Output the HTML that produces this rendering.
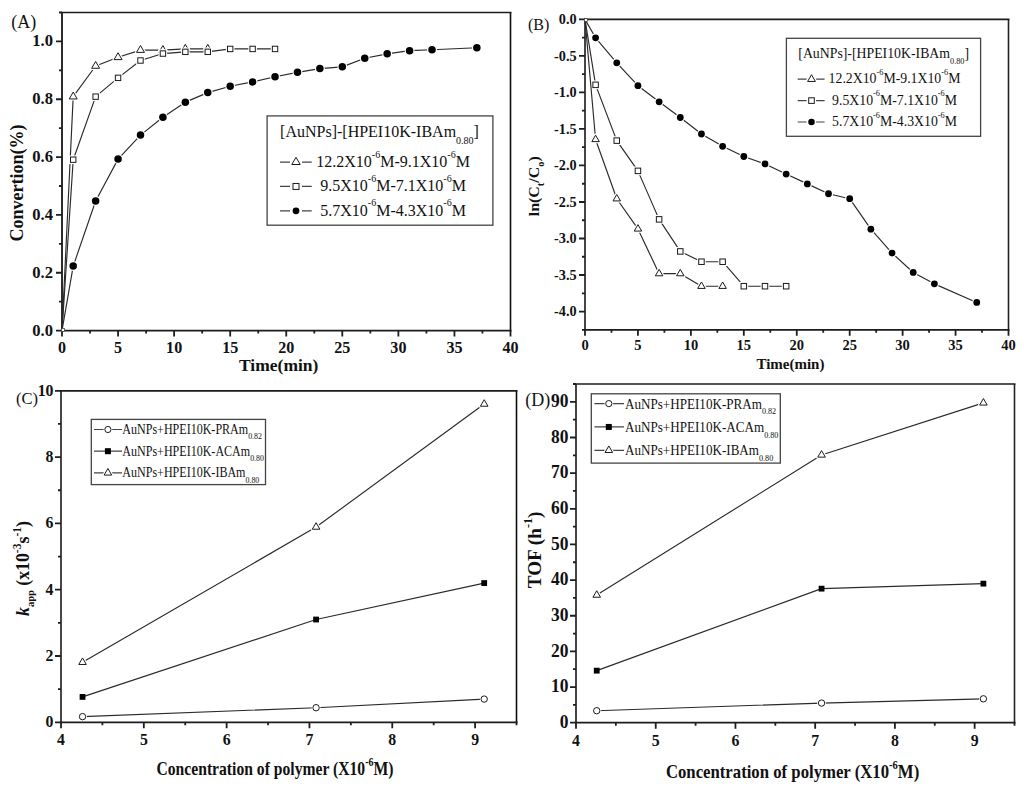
<!DOCTYPE html>
<html><head><meta charset="utf-8"><style>
html,body{margin:0;padding:0;background:#fff;}
svg{display:block;}
text{font-family:'Liberation Serif', serif;fill:#111;}
</style></head><body>
<svg width="1024" height="788" viewBox="0 0 1024 788">
<rect width="1024" height="788" fill="#fff"/>
<path d="M62 12.5V330.6" stroke="#2c2c2c" stroke-width="2" fill="none"/>
<path d="M510.5 12.5V330.6" stroke="#0d0d0d" stroke-width="1.6" fill="none"/>
<path d="M61 12.5H511.5M61 330.6H511.5" stroke="#1c1c1c" stroke-width="1.7" fill="none"/>
<path d="M62.00 330.6v6M90.03 330.6v3M118.06 330.6v6M146.09 330.6v3M174.12 330.6v6M202.16 330.6v3M230.19 330.6v6M258.22 330.6v3M286.25 330.6v6M314.28 330.6v3M342.31 330.6v6M370.34 330.6v3M398.38 330.6v6M426.41 330.6v3M454.44 330.6v6M482.47 330.6v3M510.50 330.6v6M62 330.60h-6M62 301.68h-3M62 272.76h-6M62 243.85h-3M62 214.93h-6M62 186.01h-3M62 157.09h-6M62 128.17h-3M62 99.25h-6M62 70.34h-3M62 41.42h-6M62 12.50h-3" stroke="#1e1e1e" stroke-width="1.8" fill="none"/>
<text transform="translate(62.00,353.00) scale(0.92,1)" text-anchor="middle" font-size="17.5" font-weight="bold">0</text>
<text transform="translate(118.06,353.00) scale(0.92,1)" text-anchor="middle" font-size="17.5" font-weight="bold">5</text>
<text transform="translate(174.12,353.00) scale(0.92,1)" text-anchor="middle" font-size="17.5" font-weight="bold">10</text>
<text transform="translate(230.19,353.00) scale(0.92,1)" text-anchor="middle" font-size="17.5" font-weight="bold">15</text>
<text transform="translate(286.25,353.00) scale(0.92,1)" text-anchor="middle" font-size="17.5" font-weight="bold">20</text>
<text transform="translate(342.31,353.00) scale(0.92,1)" text-anchor="middle" font-size="17.5" font-weight="bold">25</text>
<text transform="translate(398.38,353.00) scale(0.92,1)" text-anchor="middle" font-size="17.5" font-weight="bold">30</text>
<text transform="translate(454.44,353.00) scale(0.92,1)" text-anchor="middle" font-size="17.5" font-weight="bold">35</text>
<text transform="translate(510.50,353.00) scale(0.92,1)" text-anchor="middle" font-size="17.5" font-weight="bold">40</text>
<text transform="translate(53.00,335.60) scale(0.95,1)" text-anchor="end" font-size="17.5" font-weight="bold">0.0</text>
<text transform="translate(53.00,277.76) scale(0.95,1)" text-anchor="end" font-size="17.5" font-weight="bold">0.2</text>
<text transform="translate(53.00,219.93) scale(0.95,1)" text-anchor="end" font-size="17.5" font-weight="bold">0.4</text>
<text transform="translate(53.00,162.09) scale(0.95,1)" text-anchor="end" font-size="17.5" font-weight="bold">0.6</text>
<text transform="translate(53.00,104.25) scale(0.95,1)" text-anchor="end" font-size="17.5" font-weight="bold">0.8</text>
<text transform="translate(53.00,46.42) scale(0.95,1)" text-anchor="end" font-size="17.5" font-weight="bold">1.0</text>
<path d="M62.00 330.60 L73.21 266.11 L95.64 201.05 L118.06 159.12 L140.49 135.11 L162.91 117.18 L185.34 102.15 L207.76 92.60 L230.19 86.24 L252.61 81.90 L275.04 76.70 L297.46 72.36 L319.89 68.60 L342.31 66.87 L364.74 58.19 L387.16 53.85 L409.59 50.67 L432.01 49.80 L476.86 47.78" fill="none" stroke="#2a2a2a" stroke-width="1.15" stroke-linejoin="round"/>
<circle cx="73.21" cy="266.11" r="4.95" fill="#fff"/><circle cx="73.21" cy="266.11" r="3.75" fill="#000"/>
<circle cx="95.64" cy="201.05" r="4.95" fill="#fff"/><circle cx="95.64" cy="201.05" r="3.75" fill="#000"/>
<circle cx="118.06" cy="159.12" r="4.95" fill="#fff"/><circle cx="118.06" cy="159.12" r="3.75" fill="#000"/>
<circle cx="140.49" cy="135.11" r="4.95" fill="#fff"/><circle cx="140.49" cy="135.11" r="3.75" fill="#000"/>
<circle cx="162.91" cy="117.18" r="4.95" fill="#fff"/><circle cx="162.91" cy="117.18" r="3.75" fill="#000"/>
<circle cx="185.34" cy="102.15" r="4.95" fill="#fff"/><circle cx="185.34" cy="102.15" r="3.75" fill="#000"/>
<circle cx="207.76" cy="92.60" r="4.95" fill="#fff"/><circle cx="207.76" cy="92.60" r="3.75" fill="#000"/>
<circle cx="230.19" cy="86.24" r="4.95" fill="#fff"/><circle cx="230.19" cy="86.24" r="3.75" fill="#000"/>
<circle cx="252.61" cy="81.90" r="4.95" fill="#fff"/><circle cx="252.61" cy="81.90" r="3.75" fill="#000"/>
<circle cx="275.04" cy="76.70" r="4.95" fill="#fff"/><circle cx="275.04" cy="76.70" r="3.75" fill="#000"/>
<circle cx="297.46" cy="72.36" r="4.95" fill="#fff"/><circle cx="297.46" cy="72.36" r="3.75" fill="#000"/>
<circle cx="319.89" cy="68.60" r="4.95" fill="#fff"/><circle cx="319.89" cy="68.60" r="3.75" fill="#000"/>
<circle cx="342.31" cy="66.87" r="4.95" fill="#fff"/><circle cx="342.31" cy="66.87" r="3.75" fill="#000"/>
<circle cx="364.74" cy="58.19" r="4.95" fill="#fff"/><circle cx="364.74" cy="58.19" r="3.75" fill="#000"/>
<circle cx="387.16" cy="53.85" r="4.95" fill="#fff"/><circle cx="387.16" cy="53.85" r="3.75" fill="#000"/>
<circle cx="409.59" cy="50.67" r="4.95" fill="#fff"/><circle cx="409.59" cy="50.67" r="3.75" fill="#000"/>
<circle cx="432.01" cy="49.80" r="4.95" fill="#fff"/><circle cx="432.01" cy="49.80" r="3.75" fill="#000"/>
<circle cx="476.86" cy="47.78" r="4.95" fill="#fff"/><circle cx="476.86" cy="47.78" r="3.75" fill="#000"/>
<path d="M62.00 330.60 L73.21 96.65 L95.64 66.00 L118.06 57.32 L140.49 50.09 L162.91 50.09 L185.34 48.94 L207.76 48.94" fill="none" stroke="#2a2a2a" stroke-width="1.15" stroke-linejoin="round"/>
<polygon points="73.21,92.07 77.21,98.95 69.21,98.95" fill="none" stroke="#fff" stroke-width="3.2" stroke-linejoin="round"/><polygon points="73.21,92.07 77.21,98.95 69.21,98.95" fill="#fff" stroke="#1a1a1a" stroke-width="1"/>
<polygon points="95.64,61.41 99.64,68.29 91.64,68.29" fill="none" stroke="#fff" stroke-width="3.2" stroke-linejoin="round"/><polygon points="95.64,61.41 99.64,68.29 91.64,68.29" fill="#fff" stroke="#1a1a1a" stroke-width="1"/>
<polygon points="118.06,52.74 122.06,59.62 114.06,59.62" fill="none" stroke="#fff" stroke-width="3.2" stroke-linejoin="round"/><polygon points="118.06,52.74 122.06,59.62 114.06,59.62" fill="#fff" stroke="#1a1a1a" stroke-width="1"/>
<polygon points="140.49,45.51 144.49,52.39 136.49,52.39" fill="none" stroke="#fff" stroke-width="3.2" stroke-linejoin="round"/><polygon points="140.49,45.51 144.49,52.39 136.49,52.39" fill="#fff" stroke="#1a1a1a" stroke-width="1"/>
<polygon points="162.91,45.51 166.91,52.39 158.91,52.39" fill="none" stroke="#fff" stroke-width="3.2" stroke-linejoin="round"/><polygon points="162.91,45.51 166.91,52.39 158.91,52.39" fill="#fff" stroke="#1a1a1a" stroke-width="1"/>
<polygon points="185.34,44.35 189.34,51.23 181.34,51.23" fill="none" stroke="#fff" stroke-width="3.2" stroke-linejoin="round"/><polygon points="185.34,44.35 189.34,51.23 181.34,51.23" fill="#fff" stroke="#1a1a1a" stroke-width="1"/>
<polygon points="207.76,44.35 211.76,51.23 203.76,51.23" fill="none" stroke="#fff" stroke-width="3.2" stroke-linejoin="round"/><polygon points="207.76,44.35 211.76,51.23 203.76,51.23" fill="#fff" stroke="#1a1a1a" stroke-width="1"/>
<path d="M62.00 330.60 L73.21 159.69 L95.64 96.65 L118.06 77.86 L140.49 60.50 L162.91 53.56 L185.34 51.83 L207.76 51.83 L230.19 48.94 L252.61 48.94 L275.04 48.94" fill="none" stroke="#2a2a2a" stroke-width="1.15" stroke-linejoin="round"/>
<rect x="70.51" y="156.99" width="5.4" height="5.4" fill="none" stroke="#fff" stroke-width="3.2"/><rect x="70.51" y="156.99" width="5.4" height="5.4" fill="#fff" stroke="#1a1a1a" stroke-width="1"/>
<rect x="92.94" y="93.95" width="5.4" height="5.4" fill="none" stroke="#fff" stroke-width="3.2"/><rect x="92.94" y="93.95" width="5.4" height="5.4" fill="#fff" stroke="#1a1a1a" stroke-width="1"/>
<rect x="115.36" y="75.16" width="5.4" height="5.4" fill="none" stroke="#fff" stroke-width="3.2"/><rect x="115.36" y="75.16" width="5.4" height="5.4" fill="#fff" stroke="#1a1a1a" stroke-width="1"/>
<rect x="137.79" y="57.80" width="5.4" height="5.4" fill="none" stroke="#fff" stroke-width="3.2"/><rect x="137.79" y="57.80" width="5.4" height="5.4" fill="#fff" stroke="#1a1a1a" stroke-width="1"/>
<rect x="160.21" y="50.86" width="5.4" height="5.4" fill="none" stroke="#fff" stroke-width="3.2"/><rect x="160.21" y="50.86" width="5.4" height="5.4" fill="#fff" stroke="#1a1a1a" stroke-width="1"/>
<rect x="182.64" y="49.13" width="5.4" height="5.4" fill="none" stroke="#fff" stroke-width="3.2"/><rect x="182.64" y="49.13" width="5.4" height="5.4" fill="#fff" stroke="#1a1a1a" stroke-width="1"/>
<rect x="205.06" y="49.13" width="5.4" height="5.4" fill="none" stroke="#fff" stroke-width="3.2"/><rect x="205.06" y="49.13" width="5.4" height="5.4" fill="#fff" stroke="#1a1a1a" stroke-width="1"/>
<rect x="227.49" y="46.24" width="5.4" height="5.4" fill="none" stroke="#fff" stroke-width="3.2"/><rect x="227.49" y="46.24" width="5.4" height="5.4" fill="#fff" stroke="#1a1a1a" stroke-width="1"/>
<rect x="249.91" y="46.24" width="5.4" height="5.4" fill="none" stroke="#fff" stroke-width="3.2"/><rect x="249.91" y="46.24" width="5.4" height="5.4" fill="#fff" stroke="#1a1a1a" stroke-width="1"/>
<rect x="272.34" y="46.24" width="5.4" height="5.4" fill="none" stroke="#fff" stroke-width="3.2"/><rect x="272.34" y="46.24" width="5.4" height="5.4" fill="#fff" stroke="#1a1a1a" stroke-width="1"/>
<path d="M585.0 19.4V329.8" stroke="#454545" stroke-width="2" fill="none"/>
<path d="M1008.5 19.4V329.8" stroke="#222" stroke-width="1.6" fill="none"/>
<path d="M584.0 19.4H1009.5M584.0 329.8H1009.5" stroke="#1c1c1c" stroke-width="1.7" fill="none"/>
<path d="M585.00 329.8v6M611.47 329.8v3M637.94 329.8v6M664.41 329.8v3M690.88 329.8v6M717.34 329.8v3M743.81 329.8v6M770.28 329.8v3M796.75 329.8v6M823.22 329.8v3M849.69 329.8v6M876.16 329.8v3M902.62 329.8v6M929.09 329.8v3M955.56 329.8v6M982.03 329.8v3M1008.50 329.8v6M585.0 329.80h-3M585.0 311.54h-6M585.0 293.28h-3M585.0 275.02h-6M585.0 256.76h-3M585.0 238.51h-6M585.0 220.25h-3M585.0 201.99h-6M585.0 183.73h-3M585.0 165.47h-6M585.0 147.21h-3M585.0 128.95h-6M585.0 110.69h-3M585.0 92.44h-6M585.0 74.18h-3M585.0 55.92h-6M585.0 37.66h-3M585.0 19.40h-6" stroke="#1e1e1e" stroke-width="1.8" fill="none"/>
<text transform="translate(585.00,350.30) scale(1.0,1)" text-anchor="middle" font-size="14.5" font-weight="bold">0</text>
<text transform="translate(637.94,350.30) scale(1.0,1)" text-anchor="middle" font-size="14.5" font-weight="bold">5</text>
<text transform="translate(690.88,350.30) scale(1.0,1)" text-anchor="middle" font-size="14.5" font-weight="bold">10</text>
<text transform="translate(743.81,350.30) scale(1.0,1)" text-anchor="middle" font-size="14.5" font-weight="bold">15</text>
<text transform="translate(796.75,350.30) scale(1.0,1)" text-anchor="middle" font-size="14.5" font-weight="bold">20</text>
<text transform="translate(849.69,350.30) scale(1.0,1)" text-anchor="middle" font-size="14.5" font-weight="bold">25</text>
<text transform="translate(902.62,350.30) scale(1.0,1)" text-anchor="middle" font-size="14.5" font-weight="bold">30</text>
<text transform="translate(955.56,350.30) scale(1.0,1)" text-anchor="middle" font-size="14.5" font-weight="bold">35</text>
<text transform="translate(1008.50,350.30) scale(1.0,1)" text-anchor="middle" font-size="14.5" font-weight="bold">40</text>
<text transform="translate(576.60,24.10) scale(0.95,1)" text-anchor="end" font-size="15" font-weight="bold">0.0</text>
<text transform="translate(576.60,60.62) scale(0.95,1)" text-anchor="end" font-size="15" font-weight="bold">-0.5</text>
<text transform="translate(576.60,97.14) scale(0.95,1)" text-anchor="end" font-size="15" font-weight="bold">-1.0</text>
<text transform="translate(576.60,133.65) scale(0.95,1)" text-anchor="end" font-size="15" font-weight="bold">-1.5</text>
<text transform="translate(576.60,170.17) scale(0.95,1)" text-anchor="end" font-size="15" font-weight="bold">-2.0</text>
<text transform="translate(576.60,206.69) scale(0.95,1)" text-anchor="end" font-size="15" font-weight="bold">-2.5</text>
<text transform="translate(576.60,243.21) scale(0.95,1)" text-anchor="end" font-size="15" font-weight="bold">-3.0</text>
<text transform="translate(576.60,279.72) scale(0.95,1)" text-anchor="end" font-size="15" font-weight="bold">-3.5</text>
<text transform="translate(576.60,316.24) scale(0.95,1)" text-anchor="end" font-size="15" font-weight="bold">-4.0</text>
<path d="M585.00 19.40 L595.59 37.80 L616.76 62.78 L637.94 85.72 L659.11 101.78 L680.29 117.49 L701.46 133.99 L722.64 146.34 L743.81 156.49 L764.99 163.94 L786.16 174.09 L807.34 183.88 L828.51 193.74 L849.69 198.70 L870.86 229.16 L892.04 253.04 L913.21 272.47 L934.39 283.86 L976.74 302.41" fill="none" stroke="#2a2a2a" stroke-width="1.15" stroke-linejoin="round"/>
<circle cx="595.59" cy="37.80" r="4.60" fill="#fff"/><circle cx="595.59" cy="37.80" r="3.4" fill="#000"/>
<circle cx="616.76" cy="62.78" r="4.60" fill="#fff"/><circle cx="616.76" cy="62.78" r="3.4" fill="#000"/>
<circle cx="637.94" cy="85.72" r="4.60" fill="#fff"/><circle cx="637.94" cy="85.72" r="3.4" fill="#000"/>
<circle cx="659.11" cy="101.78" r="4.60" fill="#fff"/><circle cx="659.11" cy="101.78" r="3.4" fill="#000"/>
<circle cx="680.29" cy="117.49" r="4.60" fill="#fff"/><circle cx="680.29" cy="117.49" r="3.4" fill="#000"/>
<circle cx="701.46" cy="133.99" r="4.60" fill="#fff"/><circle cx="701.46" cy="133.99" r="3.4" fill="#000"/>
<circle cx="722.64" cy="146.34" r="4.60" fill="#fff"/><circle cx="722.64" cy="146.34" r="3.4" fill="#000"/>
<circle cx="743.81" cy="156.49" r="4.60" fill="#fff"/><circle cx="743.81" cy="156.49" r="3.4" fill="#000"/>
<circle cx="764.99" cy="163.94" r="4.60" fill="#fff"/><circle cx="764.99" cy="163.94" r="3.4" fill="#000"/>
<circle cx="786.16" cy="174.09" r="4.60" fill="#fff"/><circle cx="786.16" cy="174.09" r="3.4" fill="#000"/>
<circle cx="807.34" cy="183.88" r="4.60" fill="#fff"/><circle cx="807.34" cy="183.88" r="3.4" fill="#000"/>
<circle cx="828.51" cy="193.74" r="4.60" fill="#fff"/><circle cx="828.51" cy="193.74" r="3.4" fill="#000"/>
<circle cx="849.69" cy="198.70" r="4.60" fill="#fff"/><circle cx="849.69" cy="198.70" r="3.4" fill="#000"/>
<circle cx="870.86" cy="229.16" r="4.60" fill="#fff"/><circle cx="870.86" cy="229.16" r="3.4" fill="#000"/>
<circle cx="892.04" cy="253.04" r="4.60" fill="#fff"/><circle cx="892.04" cy="253.04" r="3.4" fill="#000"/>
<circle cx="913.21" cy="272.47" r="4.60" fill="#fff"/><circle cx="913.21" cy="272.47" r="3.4" fill="#000"/>
<circle cx="934.39" cy="283.86" r="4.60" fill="#fff"/><circle cx="934.39" cy="283.86" r="3.4" fill="#000"/>
<circle cx="976.74" cy="302.41" r="4.60" fill="#fff"/><circle cx="976.74" cy="302.41" r="3.4" fill="#000"/>
<path d="M585.00 19.40 L595.59 84.84 L616.76 140.64 L637.94 170.88 L659.11 219.37 L680.29 251.43 L701.46 261.73 L722.64 261.73 L743.81 286.20 L764.99 286.20 L786.16 286.20" fill="none" stroke="#2a2a2a" stroke-width="1.15" stroke-linejoin="round"/>
<rect x="592.84" y="82.09" width="5.5" height="5.5" fill="none" stroke="#fff" stroke-width="3.2"/><rect x="592.84" y="82.09" width="5.5" height="5.5" fill="#fff" stroke="#1a1a1a" stroke-width="1"/>
<rect x="614.01" y="137.89" width="5.5" height="5.5" fill="none" stroke="#fff" stroke-width="3.2"/><rect x="614.01" y="137.89" width="5.5" height="5.5" fill="#fff" stroke="#1a1a1a" stroke-width="1"/>
<rect x="635.19" y="168.13" width="5.5" height="5.5" fill="none" stroke="#fff" stroke-width="3.2"/><rect x="635.19" y="168.13" width="5.5" height="5.5" fill="#fff" stroke="#1a1a1a" stroke-width="1"/>
<rect x="656.36" y="216.62" width="5.5" height="5.5" fill="none" stroke="#fff" stroke-width="3.2"/><rect x="656.36" y="216.62" width="5.5" height="5.5" fill="#fff" stroke="#1a1a1a" stroke-width="1"/>
<rect x="677.54" y="248.68" width="5.5" height="5.5" fill="none" stroke="#fff" stroke-width="3.2"/><rect x="677.54" y="248.68" width="5.5" height="5.5" fill="#fff" stroke="#1a1a1a" stroke-width="1"/>
<rect x="698.71" y="258.98" width="5.5" height="5.5" fill="none" stroke="#fff" stroke-width="3.2"/><rect x="698.71" y="258.98" width="5.5" height="5.5" fill="#fff" stroke="#1a1a1a" stroke-width="1"/>
<rect x="719.89" y="258.98" width="5.5" height="5.5" fill="none" stroke="#fff" stroke-width="3.2"/><rect x="719.89" y="258.98" width="5.5" height="5.5" fill="#fff" stroke="#1a1a1a" stroke-width="1"/>
<rect x="741.06" y="283.45" width="5.5" height="5.5" fill="none" stroke="#fff" stroke-width="3.2"/><rect x="741.06" y="283.45" width="5.5" height="5.5" fill="#fff" stroke="#1a1a1a" stroke-width="1"/>
<rect x="762.24" y="283.45" width="5.5" height="5.5" fill="none" stroke="#fff" stroke-width="3.2"/><rect x="762.24" y="283.45" width="5.5" height="5.5" fill="#fff" stroke="#1a1a1a" stroke-width="1"/>
<rect x="783.41" y="283.45" width="5.5" height="5.5" fill="none" stroke="#fff" stroke-width="3.2"/><rect x="783.41" y="283.45" width="5.5" height="5.5" fill="#fff" stroke="#1a1a1a" stroke-width="1"/>
<path d="M585.00 19.40 L595.59 139.47 L616.76 198.77 L637.94 228.94 L659.11 273.64 L680.29 273.64 L701.46 286.27 L722.64 286.27" fill="none" stroke="#2a2a2a" stroke-width="1.15" stroke-linejoin="round"/>
<polygon points="595.59,135.17 599.34,141.62 591.84,141.62" fill="none" stroke="#fff" stroke-width="3.2" stroke-linejoin="round"/><polygon points="595.59,135.17 599.34,141.62 591.84,141.62" fill="#fff" stroke="#1a1a1a" stroke-width="1"/>
<polygon points="616.76,194.47 620.51,200.92 613.01,200.92" fill="none" stroke="#fff" stroke-width="3.2" stroke-linejoin="round"/><polygon points="616.76,194.47 620.51,200.92 613.01,200.92" fill="#fff" stroke="#1a1a1a" stroke-width="1"/>
<polygon points="637.94,224.64 641.69,231.09 634.19,231.09" fill="none" stroke="#fff" stroke-width="3.2" stroke-linejoin="round"/><polygon points="637.94,224.64 641.69,231.09 634.19,231.09" fill="#fff" stroke="#1a1a1a" stroke-width="1"/>
<polygon points="659.11,269.34 662.86,275.79 655.36,275.79" fill="none" stroke="#fff" stroke-width="3.2" stroke-linejoin="round"/><polygon points="659.11,269.34 662.86,275.79 655.36,275.79" fill="#fff" stroke="#1a1a1a" stroke-width="1"/>
<polygon points="680.29,269.34 684.04,275.79 676.54,275.79" fill="none" stroke="#fff" stroke-width="3.2" stroke-linejoin="round"/><polygon points="680.29,269.34 684.04,275.79 676.54,275.79" fill="#fff" stroke="#1a1a1a" stroke-width="1"/>
<polygon points="701.46,281.97 705.21,288.42 697.71,288.42" fill="none" stroke="#fff" stroke-width="3.2" stroke-linejoin="round"/><polygon points="701.46,281.97 705.21,288.42 697.71,288.42" fill="#fff" stroke="#1a1a1a" stroke-width="1"/>
<polygon points="722.64,281.97 726.39,288.42 718.89,288.42" fill="none" stroke="#fff" stroke-width="3.2" stroke-linejoin="round"/><polygon points="722.64,281.97 726.39,288.42 718.89,288.42" fill="#fff" stroke="#1a1a1a" stroke-width="1"/>
<rect x="61.40" y="328.50" width="3" height="3" fill="#fff" stroke="#333" stroke-width="0.7"/>
<rect x="584.30" y="18.50" width="3" height="3" fill="#fff" stroke="#333" stroke-width="0.7"/>
<path d="M61.0 390.8V722.3" stroke="#484848" stroke-width="2" fill="none"/>
<path d="M516.5 390.8V722.3" stroke="#0d0d0d" stroke-width="1.6" fill="none"/>
<path d="M60.0 390.8H517.5M60.0 722.3H517.5" stroke="#1c1c1c" stroke-width="1.7" fill="none"/>
<path d="M61.00 722.3v6M102.41 722.3v3M143.82 722.3v6M185.23 722.3v3M226.64 722.3v6M268.05 722.3v3M309.45 722.3v6M350.86 722.3v3M392.27 722.3v6M433.68 722.3v3M475.09 722.3v6M516.50 722.3v3M61.0 722.30h-6M61.0 689.15h-3M61.0 656.00h-6M61.0 622.85h-3M61.0 589.70h-6M61.0 556.55h-3M61.0 523.40h-6M61.0 490.25h-3M61.0 457.10h-6M61.0 423.95h-3M61.0 390.80h-6" stroke="#1e1e1e" stroke-width="1.8" fill="none"/>
<text transform="translate(61.00,744.80) scale(0.93,1)" text-anchor="middle" font-size="17" font-weight="bold">4</text>
<text transform="translate(143.82,744.80) scale(0.93,1)" text-anchor="middle" font-size="17" font-weight="bold">5</text>
<text transform="translate(226.64,744.80) scale(0.93,1)" text-anchor="middle" font-size="17" font-weight="bold">6</text>
<text transform="translate(309.45,744.80) scale(0.93,1)" text-anchor="middle" font-size="17" font-weight="bold">7</text>
<text transform="translate(392.27,744.80) scale(0.93,1)" text-anchor="middle" font-size="17" font-weight="bold">8</text>
<text transform="translate(475.09,744.80) scale(0.93,1)" text-anchor="middle" font-size="17" font-weight="bold">9</text>
<text transform="translate(53.50,727.30) scale(0.93,1)" text-anchor="end" font-size="17" font-weight="bold">0</text>
<text transform="translate(53.50,661.00) scale(0.93,1)" text-anchor="end" font-size="17" font-weight="bold">2</text>
<text transform="translate(53.50,594.70) scale(0.93,1)" text-anchor="end" font-size="17" font-weight="bold">4</text>
<text transform="translate(53.50,528.40) scale(0.93,1)" text-anchor="end" font-size="17" font-weight="bold">6</text>
<text transform="translate(53.50,462.10) scale(0.93,1)" text-anchor="end" font-size="17" font-weight="bold">8</text>
<text transform="translate(53.50,395.80) scale(0.93,1)" text-anchor="end" font-size="17" font-weight="bold">10</text>
<path d="M82.53 716.66 L316.08 707.71 L484.20 699.09" fill="none" stroke="#2a2a2a" stroke-width="1.15" stroke-linejoin="round"/>
<circle cx="82.53" cy="716.66" r="4.40" fill="#fff"/><circle cx="82.53" cy="716.66" r="3.2" fill="#fff" stroke="#1a1a1a" stroke-width="1"/>
<circle cx="316.08" cy="707.71" r="4.40" fill="#fff"/><circle cx="316.08" cy="707.71" r="3.2" fill="#fff" stroke="#1a1a1a" stroke-width="1"/>
<circle cx="484.20" cy="699.09" r="4.40" fill="#fff"/><circle cx="484.20" cy="699.09" r="3.2" fill="#fff" stroke="#1a1a1a" stroke-width="1"/>
<path d="M82.53 696.91 L316.08 619.53 L484.20 583.07" fill="none" stroke="#2a2a2a" stroke-width="1.15" stroke-linejoin="round"/>
<rect x="79.63" y="694.01" width="5.8" height="5.8" fill="#000" stroke="#fff" stroke-width="0"/>
<rect x="313.18" y="616.63" width="5.8" height="5.8" fill="#000" stroke="#fff" stroke-width="0"/>
<rect x="481.30" y="580.17" width="5.8" height="5.8" fill="#000" stroke="#fff" stroke-width="0"/>
<path d="M82.53 662.30 L316.08 527.05 L484.20 404.06" fill="none" stroke="#2a2a2a" stroke-width="1.15" stroke-linejoin="round"/>
<polygon points="82.53,657.94 86.33,664.48 78.73,664.48" fill="none" stroke="#fff" stroke-width="3.2" stroke-linejoin="round"/><polygon points="82.53,657.94 86.33,664.48 78.73,664.48" fill="#fff" stroke="#1a1a1a" stroke-width="1"/>
<polygon points="316.08,522.69 319.88,529.23 312.28,529.23" fill="none" stroke="#fff" stroke-width="3.2" stroke-linejoin="round"/><polygon points="316.08,522.69 319.88,529.23 312.28,529.23" fill="#fff" stroke="#1a1a1a" stroke-width="1"/>
<polygon points="484.20,399.70 488.00,406.24 480.40,406.24" fill="none" stroke="#fff" stroke-width="3.2" stroke-linejoin="round"/><polygon points="484.20,399.70 488.00,406.24 480.40,406.24" fill="#fff" stroke="#1a1a1a" stroke-width="1"/>
<path d="M576.0 384V722.7" stroke="#444" stroke-width="2" fill="none"/>
<path d="M1014.5 384V722.7" stroke="#242424" stroke-width="1.6" fill="none"/>
<path d="M575.0 384H1015.5M575.0 722.7H1015.5" stroke="#1c1c1c" stroke-width="1.7" fill="none"/>
<path d="M576.00 722.7v6M615.86 722.7v3M655.73 722.7v6M695.59 722.7v3M735.45 722.7v6M775.32 722.7v3M815.18 722.7v6M855.05 722.7v3M894.91 722.7v6M934.77 722.7v3M974.64 722.7v6M1014.50 722.7v3M576.0 722.70h-6M576.0 704.87h-3M576.0 687.05h-6M576.0 669.22h-3M576.0 651.39h-6M576.0 633.57h-3M576.0 615.74h-6M576.0 597.92h-3M576.0 580.09h-6M576.0 562.26h-3M576.0 544.44h-6M576.0 526.61h-3M576.0 508.78h-6M576.0 490.96h-3M576.0 473.13h-6M576.0 455.31h-3M576.0 437.48h-6M576.0 419.65h-3M576.0 401.83h-6M576.0 384.00h-3" stroke="#1e1e1e" stroke-width="1.8" fill="none"/>
<text transform="translate(576.00,745.70) scale(0.93,1)" text-anchor="middle" font-size="17" font-weight="bold">4</text>
<text transform="translate(655.73,745.70) scale(0.93,1)" text-anchor="middle" font-size="17" font-weight="bold">5</text>
<text transform="translate(735.45,745.70) scale(0.93,1)" text-anchor="middle" font-size="17" font-weight="bold">6</text>
<text transform="translate(815.18,745.70) scale(0.93,1)" text-anchor="middle" font-size="17" font-weight="bold">7</text>
<text transform="translate(894.91,745.70) scale(0.93,1)" text-anchor="middle" font-size="17" font-weight="bold">8</text>
<text transform="translate(974.64,745.70) scale(0.93,1)" text-anchor="middle" font-size="17" font-weight="bold">9</text>
<text transform="translate(568.50,728.00) scale(0.97,1)" font-size="18" font-weight="bold" text-anchor="end">0</text>
<text transform="translate(568.50,692.35) scale(0.97,1)" font-size="18" font-weight="bold" text-anchor="end">10</text>
<text transform="translate(568.50,656.69) scale(0.97,1)" font-size="18" font-weight="bold" text-anchor="end">20</text>
<text transform="translate(568.50,621.04) scale(0.97,1)" font-size="18" font-weight="bold" text-anchor="end">30</text>
<text transform="translate(568.50,585.39) scale(0.97,1)" font-size="18" font-weight="bold" text-anchor="end">40</text>
<text transform="translate(568.50,549.74) scale(0.97,1)" font-size="18" font-weight="bold" text-anchor="end">50</text>
<text transform="translate(568.50,514.08) scale(0.97,1)" font-size="18" font-weight="bold" text-anchor="end">60</text>
<text transform="translate(568.50,478.43) scale(0.97,1)" font-size="18" font-weight="bold" text-anchor="end">70</text>
<text transform="translate(568.50,442.78) scale(0.97,1)" font-size="18" font-weight="bold" text-anchor="end">80</text>
<text transform="translate(568.50,407.13) scale(0.97,1)" font-size="18" font-weight="bold" text-anchor="end">90</text>
<path d="M596.73 710.72 L821.56 703.09 L983.41 698.81" fill="none" stroke="#2a2a2a" stroke-width="1.15" stroke-linejoin="round"/>
<circle cx="596.73" cy="710.72" r="4.40" fill="#fff"/><circle cx="596.73" cy="710.72" r="3.2" fill="#fff" stroke="#1a1a1a" stroke-width="1"/>
<circle cx="821.56" cy="703.09" r="4.40" fill="#fff"/><circle cx="821.56" cy="703.09" r="3.2" fill="#fff" stroke="#1a1a1a" stroke-width="1"/>
<circle cx="983.41" cy="698.81" r="4.40" fill="#fff"/><circle cx="983.41" cy="698.81" r="3.2" fill="#fff" stroke="#1a1a1a" stroke-width="1"/>
<path d="M596.73 670.65 L821.56 588.65 L983.41 583.65" fill="none" stroke="#2a2a2a" stroke-width="1.15" stroke-linejoin="round"/>
<rect x="593.83" y="667.75" width="5.8" height="5.8" fill="#000" stroke="#fff" stroke-width="0"/>
<rect x="818.66" y="585.75" width="5.8" height="5.8" fill="#000" stroke="#fff" stroke-width="0"/>
<rect x="980.51" y="580.75" width="5.8" height="5.8" fill="#000" stroke="#fff" stroke-width="0"/>
<path d="M596.73 595.06 L821.56 454.95 L983.41 402.90" fill="none" stroke="#2a2a2a" stroke-width="1.15" stroke-linejoin="round"/>
<polygon points="596.73,590.71 600.53,597.24 592.93,597.24" fill="none" stroke="#fff" stroke-width="3.2" stroke-linejoin="round"/><polygon points="596.73,590.71 600.53,597.24 592.93,597.24" fill="#fff" stroke="#1a1a1a" stroke-width="1"/>
<polygon points="821.56,450.59 825.36,457.13 817.76,457.13" fill="none" stroke="#fff" stroke-width="3.2" stroke-linejoin="round"/><polygon points="821.56,450.59 825.36,457.13 817.76,457.13" fill="#fff" stroke="#1a1a1a" stroke-width="1"/>
<polygon points="983.41,398.54 987.21,405.07 979.61,405.07" fill="none" stroke="#fff" stroke-width="3.2" stroke-linejoin="round"/><polygon points="983.41,398.54 987.21,405.07 979.61,405.07" fill="#fff" stroke="#1a1a1a" stroke-width="1"/>
<text transform="translate(11.20,27.80)" font-size="18" text-anchor="start">(A)</text>
<text transform="translate(528.00,30.30)" font-size="16" text-anchor="start">(B)</text>
<text transform="translate(16.00,404.00)" font-size="16.5" text-anchor="start">(C)</text>
<text transform="translate(525.20,405.80)" font-size="18" text-anchor="start">(D)</text>
<text transform="translate(239.00,371.20)" font-size="17.5" font-weight="bold" text-anchor="start">Time(min)</text>
<text transform="translate(23.30,241.60) rotate(-90) scale(0.95,1)" font-size="19" font-weight="bold" text-anchor="start">Convertion(%)</text>
<text transform="translate(756.40,369.40)" font-size="15" font-weight="bold" text-anchor="start">Time(min)</text>
<text transform="translate(539.40,216.30) rotate(-90) scale(1.03,1)" font-size="15.5" font-weight="bold" text-anchor="start">ln(C<tspan font-size="10" y="5">t</tspan><tspan y="0">/C</tspan><tspan font-size="10" y="5">o</tspan><tspan y="0">)</tspan></text>
<text transform="translate(156.50,774.80) scale(0.869,1)" font-size="18" font-weight="bold" text-anchor="start">Concentration of polymer (X10<tspan font-size="11.5" y="-9">-6</tspan><tspan y="0">M)</tspan></text>
<text transform="translate(665.90,778.30) scale(0.881,1)" font-size="19" font-weight="bold" text-anchor="start">Concentration of polymer (X10<tspan font-size="12" y="-9.5">-6</tspan><tspan y="0">M)</tspan></text>
<text transform="translate(28.80,616.00) rotate(-90) scale(0.96,1)" font-size="18.5" font-weight="bold" text-anchor="start"><tspan font-style="italic">k</tspan><tspan font-size="11" y="5">app</tspan><tspan y="0"> (x10</tspan><tspan font-size="12" y="-8">-3</tspan><tspan y="0">s</tspan><tspan font-size="12" y="-8">-1</tspan><tspan y="0">)</tspan></text>
<text transform="translate(540.60,588.30) rotate(-90) scale(1.01,1)" font-size="19" font-weight="bold" text-anchor="start">TOF (h<tspan font-size="12" y="-9">-1</tspan><tspan y="0">)</tspan></text>
<rect x="267.1" y="115.9" width="225.8" height="109.3" fill="#fff" stroke="#444" stroke-width="1.3"/>
<text transform="translate(280.10,137.20)" font-size="16" text-anchor="start">[AuNPs]-[HPEI10K-IBAm<tspan font-size="10" y="6.5">0.80</tspan><tspan y="0">]</tspan></text>
<path d="M280 162.1H290M302 162.1H311.7" stroke="#444" stroke-width="1.2"/>
<polygon points="296.00,157.28 300.20,164.51 291.80,164.51" fill="none" stroke="#fff" stroke-width="3.2" stroke-linejoin="round"/><polygon points="296.00,157.28 300.20,164.51 291.80,164.51" fill="#fff" stroke="#1a1a1a" stroke-width="1"/>
<text xml:space="preserve" transform="translate(316.30,166.80)" font-size="16" text-anchor="start">12.2X10<tspan font-size="10" y="-9.3">-6</tspan><tspan y="0">M-9.1X10</tspan><tspan font-size="10" y="-9.3">-6</tspan><tspan y="0">M</tspan></text>
<path d="M280 186.45H290M302 186.45H311.7" stroke="#444" stroke-width="1.2"/>
<rect x="293.00" y="183.45" width="6" height="6" fill="none" stroke="#fff" stroke-width="3.2"/><rect x="293.00" y="183.45" width="6" height="6" fill="#fff" stroke="#1a1a1a" stroke-width="1"/>
<text xml:space="preserve" transform="translate(316.30,191.15)" font-size="16" text-anchor="start"> 9.5X10<tspan font-size="10" y="-9.3">-6</tspan><tspan y="0">M-7.1X10</tspan><tspan font-size="10" y="-9.3">-6</tspan><tspan y="0">M</tspan></text>
<path d="M280 210.8H290M302 210.8H311.7" stroke="#444" stroke-width="1.2"/>
<circle cx="296.00" cy="210.80" r="4.60" fill="#fff"/><circle cx="296.00" cy="210.80" r="3.4" fill="#000"/>
<text xml:space="preserve" transform="translate(316.30,215.50)" font-size="16" text-anchor="start"> 5.7X10<tspan font-size="10" y="-9.3">-6</tspan><tspan y="0">M-4.3X10</tspan><tspan font-size="10" y="-9.3">-6</tspan><tspan y="0">M</tspan></text>
<rect x="786.4" y="38.3" width="194.2" height="98" fill="#fff" stroke="#444" stroke-width="1.3"/>
<text transform="translate(798.30,57.70) scale(0.92,1)" font-size="15" text-anchor="start">[AuNPs]-[HPEI10K-IBAm<tspan font-size="9" y="6">0.80</tspan><tspan y="0">]</tspan></text>
<path d="M797.7 79.2H806.6M816.1 79.2H824.6" stroke="#444" stroke-width="1.2"/>
<polygon points="811.50,74.73 815.40,81.44 807.60,81.44" fill="none" stroke="#fff" stroke-width="3.2" stroke-linejoin="round"/><polygon points="811.50,74.73 815.40,81.44 807.60,81.44" fill="#fff" stroke="#1a1a1a" stroke-width="1"/>
<text xml:space="preserve" transform="translate(828.60,83.40) scale(0.92,1)" font-size="15" text-anchor="start">12.2X10<tspan font-size="9" y="-8.5">-6</tspan><tspan y="0">M-9.1X10</tspan><tspan font-size="9" y="-8.5">-6</tspan><tspan y="0">M</tspan></text>
<path d="M797.7 100.6H806.6M816.1 100.6H824.6" stroke="#444" stroke-width="1.2"/>
<rect x="808.70" y="97.80" width="5.6" height="5.6" fill="none" stroke="#fff" stroke-width="3.2"/><rect x="808.70" y="97.80" width="5.6" height="5.6" fill="#fff" stroke="#1a1a1a" stroke-width="1"/>
<text xml:space="preserve" transform="translate(828.60,104.80) scale(0.92,1)" font-size="15" text-anchor="start"> 9.5X10<tspan font-size="9" y="-8.5">-6</tspan><tspan y="0">M-7.1X10</tspan><tspan font-size="9" y="-8.5">-6</tspan><tspan y="0">M</tspan></text>
<path d="M797.7 122.0H806.6M816.1 122.0H824.6" stroke="#444" stroke-width="1.2"/>
<circle cx="811.50" cy="122.00" r="4.45" fill="#fff"/><circle cx="811.50" cy="122.00" r="3.25" fill="#000"/>
<text xml:space="preserve" transform="translate(828.60,126.20) scale(0.92,1)" font-size="15" text-anchor="start"> 5.7X10<tspan font-size="9" y="-8.5">-6</tspan><tspan y="0">M-4.3X10</tspan><tspan font-size="9" y="-8.5">-6</tspan><tspan y="0">M</tspan></text>
<rect x="91.3" y="419.4" width="174.2" height="65.2" fill="#fff" stroke="#444" stroke-width="1.3"/>
<path d="M94 429.5H122M107.9 429.5H122" stroke="#444" stroke-width="1.2"/>
<circle cx="107.90" cy="429.50" r="4.30" fill="#fff"/><circle cx="107.90" cy="429.50" r="3.1" fill="#fff" stroke="#1a1a1a" stroke-width="1"/>
<text transform="translate(122.30,433.80) scale(0.874,1)" font-size="13.8" text-anchor="start">AuNPs+HPEI10K-PRAm<tspan font-size="9" y="5.5">0.82</tspan></text>
<path d="M94 451.2H122M107.9 451.2H122" stroke="#444" stroke-width="1.2"/>
<rect x="104.90" y="448.20" width="6" height="6" fill="#000" stroke="#fff" stroke-width="0"/>
<text transform="translate(122.30,455.50) scale(0.874,1)" font-size="13.8" text-anchor="start">AuNPs+HPEI10K-ACAm<tspan font-size="9" y="5.5">0.80</tspan></text>
<path d="M94 472.9H122M107.9 472.9H122" stroke="#444" stroke-width="1.2"/>
<polygon points="107.90,468.54 111.70,475.08 104.10,475.08" fill="none" stroke="#fff" stroke-width="3.2" stroke-linejoin="round"/><polygon points="107.90,468.54 111.70,475.08 104.10,475.08" fill="#fff" stroke="#1a1a1a" stroke-width="1"/>
<text transform="translate(122.30,477.20) scale(0.874,1)" font-size="13.8" text-anchor="start">AuNPs+HPEI10K-IBAm<tspan font-size="9" y="5.5">0.80</tspan></text>
<rect x="591.3" y="393.8" width="189" height="69.3" fill="#fff" stroke="#444" stroke-width="1.3"/>
<path d="M594.4 403.6H624M608.8 403.6H624" stroke="#444" stroke-width="1.2"/>
<circle cx="608.80" cy="403.60" r="4.30" fill="#fff"/><circle cx="608.80" cy="403.60" r="3.1" fill="#fff" stroke="#1a1a1a" stroke-width="1"/>
<text transform="translate(625.00,408.70) scale(0.904,1)" font-size="14.5" text-anchor="start">AuNPs+HPEI10K-PRAm<tspan font-size="9" y="5.5">0.82</tspan></text>
<path d="M594.4 426.95000000000005H624M608.8 426.95000000000005H624" stroke="#444" stroke-width="1.2"/>
<rect x="605.80" y="423.95" width="6" height="6" fill="#000" stroke="#fff" stroke-width="0"/>
<text transform="translate(625.00,432.05) scale(0.904,1)" font-size="14.5" text-anchor="start">AuNPs+HPEI10K-ACAm<tspan font-size="9" y="5.5">0.80</tspan></text>
<path d="M594.4 450.3H624M608.8 450.3H624" stroke="#444" stroke-width="1.2"/>
<polygon points="608.80,445.94 612.60,452.48 605.00,452.48" fill="none" stroke="#fff" stroke-width="3.2" stroke-linejoin="round"/><polygon points="608.80,445.94 612.60,452.48 605.00,452.48" fill="#fff" stroke="#1a1a1a" stroke-width="1"/>
<text transform="translate(625.00,455.40) scale(0.904,1)" font-size="14.5" text-anchor="start">AuNPs+HPEI10K-IBAm<tspan font-size="9" y="5.5">0.80</tspan></text>
</svg></body></html>
